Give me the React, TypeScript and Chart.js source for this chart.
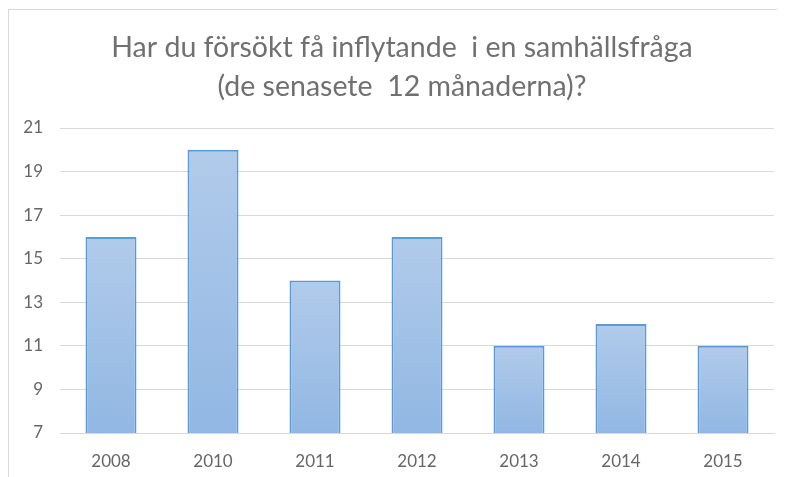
import React, { useEffect, useRef } from "react";
import { Chart, registerables } from "chart.js";

Chart.register(...registerables);

const titleLines = ["Har du försökt få inflytande  i en samhällsfråga", "(de senasete  12 månaderna)?"];
const categories = ["2008", "2010", "2011", "2012", "2013", "2014", "2015"];
const values = [16, 20, 14, 16, 11, 12, 11];
const yMin = 7;
const yMax = 21;
const yStep = 2;

const titleShift = {
  id: "titleShift",
  afterLayout(chart: any) {
    if (chart.titleBlock) {
      chart.titleBlock.left = chart.titleBlock.left + 21;
      chart.titleBlock.width = chart.titleBlock.right - chart.titleBlock.left;
    }
  },
};

export default function App() {
  const ref = useRef<HTMLCanvasElement | null>(null);

  useEffect(() => {
    if (!ref.current) return;
    const chart = new Chart(ref.current, {
      type: "bar",
      data: {
        labels: categories,
        datasets: [
          {
            data: values,
            backgroundColor: (ctx: any) => {
              const c = ctx.chart;
              if (!c.chartArea || ctx.parsed == null) return "#a3c1e7";
              const ys = c.scales.y;
              const top = ys.getPixelForValue(ctx.parsed.y);
              const bottom = ys.getPixelForValue(yMin);
              if (!isFinite(top) || !isFinite(bottom) || top === bottom) return "#a3c1e7";
              const g = c.ctx.createLinearGradient(0, top, 0, bottom);
              g.addColorStop(0, "#b1cbea");
              g.addColorStop(1, "#91b7e3");
              return g;
            },
            borderColor: "#5b9bd5",
            borderWidth: 2,
            borderSkipped: "bottom",
            categoryPercentage: 1,
            barPercentage: 0.5,
          },
        ],
      },
      plugins: [titleShift],
      options: {
        animation: false,
        responsive: false,
        maintainAspectRatio: false,
        layout: { padding: { left: 0, right: 11, top: 0, bottom: 0 } },
        plugins: {
          legend: { display: false },
          tooltip: { enabled: false },
          title: {
            display: true,
            text: titleLines,
            color: "#707070",
            font: { family: "Lato, 'Open Sans', sans-serif", size: 28.5, weight: "normal", lineHeight: 39 / 28.5 },
            padding: { top: 18, bottom: 22 },
          },
        },
        scales: {
          x: {
            afterFit: (s: any) => {
              s.height = 45;
            },
            grid: { display: false, drawTicks: false },
            border: { display: true, color: "#d9d9d9", width: 1 },
            ticks: {
              color: "#666666",
              font: { family: "Lato, 'Open Sans', sans-serif", size: 17 },
              padding: 18,
            },
          },
          y: {
            min: yMin,
            max: yMax,
            afterFit: (s: any) => {
              s.width = 51;
            },
            grid: { color: "#d9d9d9", lineWidth: 1, drawTicks: false },
            border: { display: false },
            ticks: {
              stepSize: yStep,
              color: "#666666",
              font: { family: "Lato, 'Open Sans', sans-serif", size: 17 },
              padding: 17,
            },
          },
        },
      },
    });
    return () => chart.destroy();
  }, []);

  return (
    <div
      style={{
        width: 776,
        height: 468,
        borderTop: "1px solid #d9d9d9",
        borderLeft: "1px solid #d9d9d9",
        marginTop: 1,
        background: "#fff",
      }}
    >
      <canvas ref={ref} width={776} height={468} style={{ display: "block" }} />
    </div>
  );
}
